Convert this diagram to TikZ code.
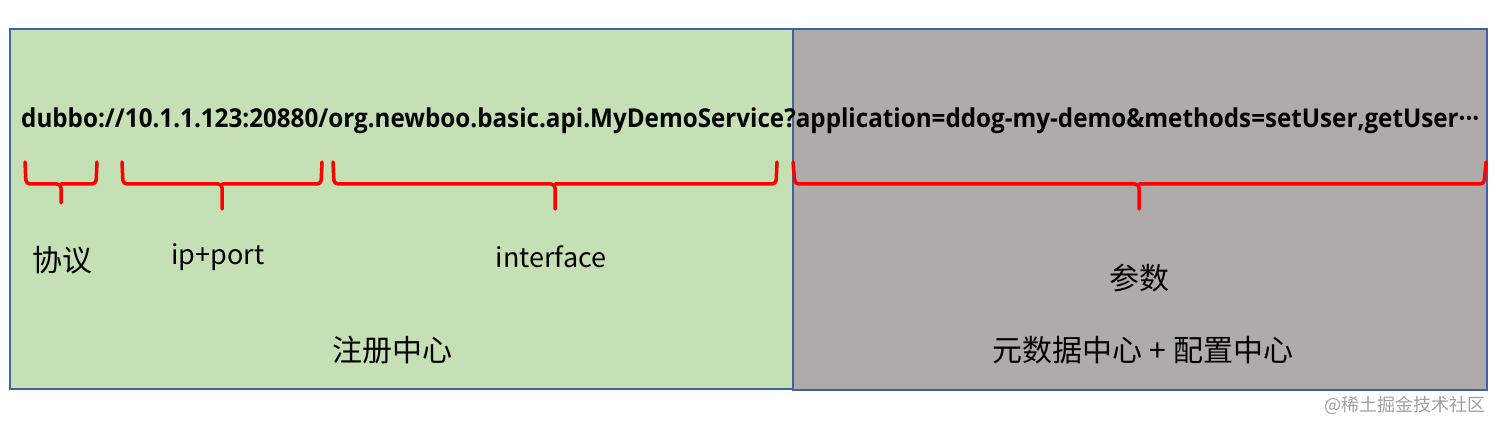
\documentclass[tikz,border=0pt]{standalone}
\usepackage{fontspec}
\usepackage{graphicx}
\setmainfont{Noto Sans CJK SC}
\newfontfamily\urlfont{Open Sans}
\definecolor{greenfill}{HTML}{C5E0B4}
\definecolor{grayfill}{HTML}{AFABAB}
\definecolor{boxline}{HTML}{3F62A0}
\definecolor{bracered}{HTML}{FF0000}
\definecolor{wmgray}{HTML}{A0A0A0}
\tikzset{
  region/.style={draw=boxline, line width=1.2pt},
  bracepath/.style={draw=bracered, line width=3.5pt, rounded corners=4pt, line cap=round},
  label/.style={inner sep=0pt, font=\fontsize{27}{30}\selectfont},
  cjklabel/.style={inner sep=0pt, font=\fontsize{30}{33}\selectfont},
}
\begin{document}
\begin{tikzpicture}[x=1pt,y=-1pt]
\useasboundingbox (0,0) rectangle (1512,430);
\path[region, fill=greenfill] (10,29) rectangle (793,389);
\path[region, fill=grayfill] (793,29) rectangle (1487,390);
\node[anchor=base west, inner sep=0pt] (url) at (21,128)
  {\resizebox{1458pt}{\height}{\urlfont\fontsize{26}{29}\selectfont\bfseries dubbo://10.1.1.123:20880/org.newboo.basic.api.MyDemoService?application=ddog-my-demo\&methods=setUser,getUser···}};
% braces
\path[bracepath] (25,162) -- (26,184) -- (61,184) -- (61,203) (61,184) -- (96,184) -- (97,162);
\path[bracepath] (122,162) -- (123,184) -- (222,184) -- (222,209) (222,184) -- (321,184) -- (322,162);
\path[bracepath] (333,162) -- (334,184) -- (555,184) -- (555,209) (555,184) -- (776,184) -- (777,162);
\path[bracepath] (793,162) -- (795,184) -- (1139,184) -- (1139,209) (1139,184) -- (1484,184) -- (1486,162);
% labels
\node[cjklabel] (proto) at (62,260) {协议};
\node[label] (ipport) at (218,257) {ip+port};
\node[label] (iface) at (551,257) {interface};
\node[cjklabel] (params) at (1139,278) {参数};
\node[cjklabel] (reg) at (392,350) {注册中心};
\node[cjklabel] (meta) at (1143,350) {元数据中心 + 配置中心};
\node[inner sep=0pt, text=wmgray, font=\fontsize{18}{20}\selectfont] (wm) at (1405,405) {@稀土掘金技术社区};
\end{tikzpicture}
\end{document}
